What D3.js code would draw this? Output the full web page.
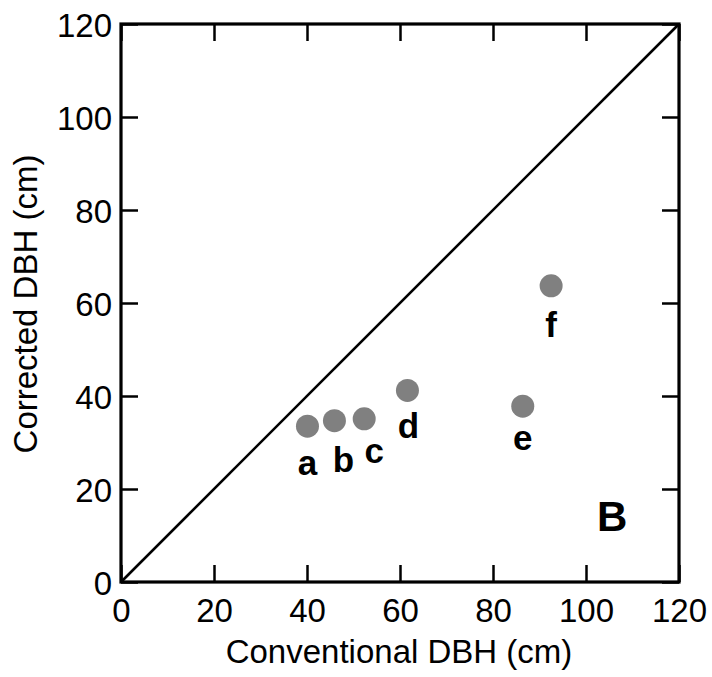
<!DOCTYPE html>
<html>
<head>
<meta charset="utf-8">
<script src="https://cdn.jsdelivr.net/npm/d3@7"></script>
<style>
  html, body { margin: 0; padding: 0; background: #fff; }
  svg { display: block; font-family: "Liberation Sans", Arial, Helvetica, sans-serif; }
</style>
</head>
<body>
<script>
// ---- data ----
const treeIds = ["a", "b", "c", "d", "e", "f"];
const conventionalDBH = [40.1, 45.9, 52.3, 61.6, 86.4, 92.5];
const correctedDBH = [33.5, 34.7, 35.1, 41.2, 37.8, 63.7];
const tickValues = [0, 20, 40, 60, 80, 100, 120];
const xTitle = "Conventional DBH (cm)";
const yTitle = "Corrected DBH (cm)";
const panelLabel = "B";

// label placement relative to points (pixels)
const labelDx = [0, 9, 10, 1, 0, 0];
const labelDy = [49, 51, 44, 48, 44, 51];

const W = 712, H = 677;
const margin = { left: 121, top: 24, right: 33, bottom: 95 };
const iw = W - margin.left - margin.right; // 558
const ih = H - margin.top - margin.bottom; // 558

const svg = d3.select("body").append("svg").attr("width", W).attr("height", H);
const g = svg.append("g").attr("transform", `translate(${margin.left},${margin.top})`);

const x = d3.scaleLinear().domain([0, 120]).range([0, iw]);
const y = d3.scaleLinear().domain([0, 120]).range([ih, 0]);

const tickLen = 17;
const fontSize = 33;

// axes with inward ticks
const styleAxis = sel => {
  sel.select(".domain").remove();
  sel.selectAll(".tick line").attr("stroke", "#000").attr("stroke-width", 2.5);
};

g.append("g").attr("transform", `translate(0,${ih})`)
  .call(d3.axisBottom(x).tickValues(tickValues).tickSize(-tickLen))
  .call(styleAxis)
  .call(s => s.selectAll(".tick text").attr("font-size", fontSize).attr("fill", "#000")
    .attr("font-family", "Liberation Sans, Arial, sans-serif").attr("dy", "0").attr("y", 40));

g.append("g")
  .call(d3.axisLeft(y).tickValues(tickValues).tickSize(-tickLen).tickPadding(0))
  .call(styleAxis)
  .call(s => s.selectAll(".tick text").attr("font-size", fontSize).attr("fill", "#000")
    .attr("font-family", "Liberation Sans, Arial, sans-serif")
    .attr("x", -9).attr("dy", "0").attr("y", 12));

g.append("g")
  .call(d3.axisTop(x).tickValues(tickValues).tickSize(-tickLen).tickFormat(""))
  .call(styleAxis);

g.append("g").attr("transform", `translate(${iw},0)`)
  .call(d3.axisRight(y).tickValues(tickValues).tickSize(-tickLen).tickFormat(""))
  .call(styleAxis);

// 1:1 line
g.append("line")
  .attr("x1", x(0)).attr("y1", y(0)).attr("x2", x(120)).attr("y2", y(120))
  .attr("stroke", "#000").attr("stroke-width", 2.6);

// frame
g.append("rect").attr("x", 0).attr("y", 0).attr("width", iw).attr("height", ih)
  .attr("fill", "none").attr("stroke", "#000").attr("stroke-width", 3.2);

// points
const pts = treeIds.map((id, i) => ({ id, cx: conventionalDBH[i], cy: correctedDBH[i], dx: labelDx[i], dy: labelDy[i] }));

g.selectAll("circle.pt").data(pts).join("circle")
  .attr("class", "pt")
  .attr("cx", d => x(d.cx)).attr("cy", d => y(d.cy))
  .attr("r", 11.5).attr("fill", "#808080");

g.selectAll("text.lbl").data(pts).join("text")
  .attr("class", "lbl")
  .attr("x", d => x(d.cx) + d.dx).attr("y", d => y(d.cy) + d.dy)
  .attr("text-anchor", "middle")
  .attr("font-size", 35).attr("font-weight", "bold").attr("fill", "#000")
  .text(d => d.id);

// panel label
g.append("text")
  .attr("x", x(103) - 3).attr("y", y(11))
  .attr("font-size", 42).attr("font-weight", "bold").attr("fill", "#000")
  .text(panelLabel);

// axis titles
svg.append("text")
  .attr("x", margin.left + iw / 2 - 1).attr("y", 663)
  .attr("text-anchor", "middle").attr("font-size", fontSize).attr("fill", "#000")
  .text(xTitle);

svg.append("text")
  .attr("transform", `translate(37,${margin.top + ih / 2 + 1}) rotate(-90)`)
  .attr("text-anchor", "middle").attr("font-size", fontSize).attr("fill", "#000")
  .text(yTitle);
</script>
</body>
</html>
